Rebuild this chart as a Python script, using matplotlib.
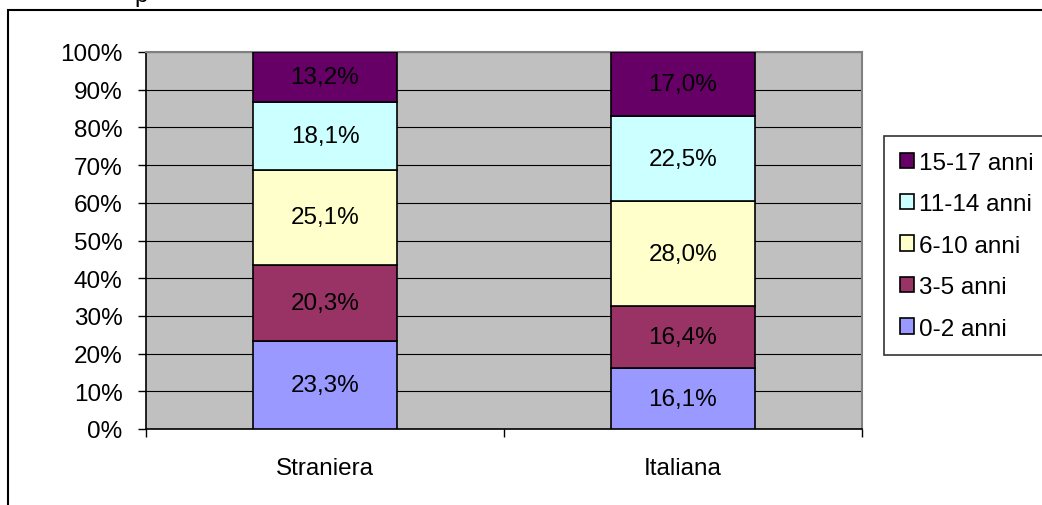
import matplotlib.pyplot as plt
from matplotlib.patches import Rectangle

plt.rcParams['font.family'] = ['Liberation Sans', 'DejaVu Sans']

groups = ['Straniera', 'Italiana']
age_classes = ['0-2 anni', '3-5 anni', '6-10 anni', '11-14 anni', '15-17 anni']
straniera = [23.3, 20.3, 25.1, 18.1, 13.2]
italiana = [16.1, 16.4, 28.0, 22.5, 17.0]
colors = ['#9999FF', '#993366', '#FFFFCC', '#CCFFFF', '#660066']

values = [straniera, italiana]
fs = 17.5

fig = plt.figure(figsize=(10.42, 5.06), dpi=100)
ax = fig.add_axes([146 / 1042, 76 / 506, 716 / 1042, 377 / 506])
ax.set_facecolor('#C0C0C0')

# outer chart frame (partly cut off by the screenshot)
fig.patches.append(Rectangle((8 / 1042, -0.1), 1.2, (506 - 11) / 506 + 0.1,
                             transform=fig.transFigure, fill=False,
                             edgecolor='black', linewidth=1.5))
fig.text(141 / 1042, 1 - 2 / 506, 'p', fontsize=fs, va='baseline', ha='center')

x = [0, 1]
bottoms = [0, 0]
for i, label in enumerate(age_classes):
    heights = [values[g][i] for g in range(2)]
    ax.bar(x, heights, bottom=bottoms, width=0.4, color=colors[i],
           edgecolor='black', linewidth=1.2, label=label, zorder=3)
    for g in range(2):
        ax.text(x[g], bottoms[g] + heights[g] / 2, f'{heights[g]:.1f}%'.replace('.', ','),
                ha='center', va='center', fontsize=fs, zorder=4)
    bottoms = [bottoms[g] + heights[g] for g in range(2)]

ax.set_xlim(-0.5, 1.5)
ax.set_ylim(0, 100)
ax.set_yticks(range(0, 101, 10))
ax.set_yticklabels([f'{v}%' for v in range(0, 101, 10)], fontsize=fs)
ax.yaxis.grid(True, color='black', linewidth=0.8, zorder=1)
ax.set_axisbelow(True)

ax.set_xticks([-0.5, 0.5, 1.5])
ax.set_xticklabels([])
ax.set_xticks(x, minor=True)
ax.set_xticklabels(groups, minor=True, fontsize=fs)
ax.tick_params(axis='x', which='minor', length=0, pad=20)
ax.tick_params(axis='x', which='major', length=6, width=1, direction='out')
ax.tick_params(axis='y', length=6, width=1, direction='out', pad=11)

for side in ['top', 'right']:
    ax.spines[side].set_color('#808080')
    ax.spines[side].set_linewidth(1.5)
ax.spines['left'].set_linewidth(1.2)
ax.spines['bottom'].set_linewidth(1.2)

handles, labels = ax.get_legend_handles_labels()
leg = fig.legend(handles[::-1], labels[::-1], loc='upper left',
                 bbox_to_anchor=(884 / 1042, 1 - 137 / 506), fontsize=fs,
                 frameon=True, fancybox=False, edgecolor='black',
                 handlelength=0.6, handleheight=0.6, handletextpad=0.2,
                 labelspacing=0.8, borderpad=0.65, borderaxespad=0)
leg.get_frame().set_linewidth(1.2)

fig.savefig('out.png', dpi=100)
